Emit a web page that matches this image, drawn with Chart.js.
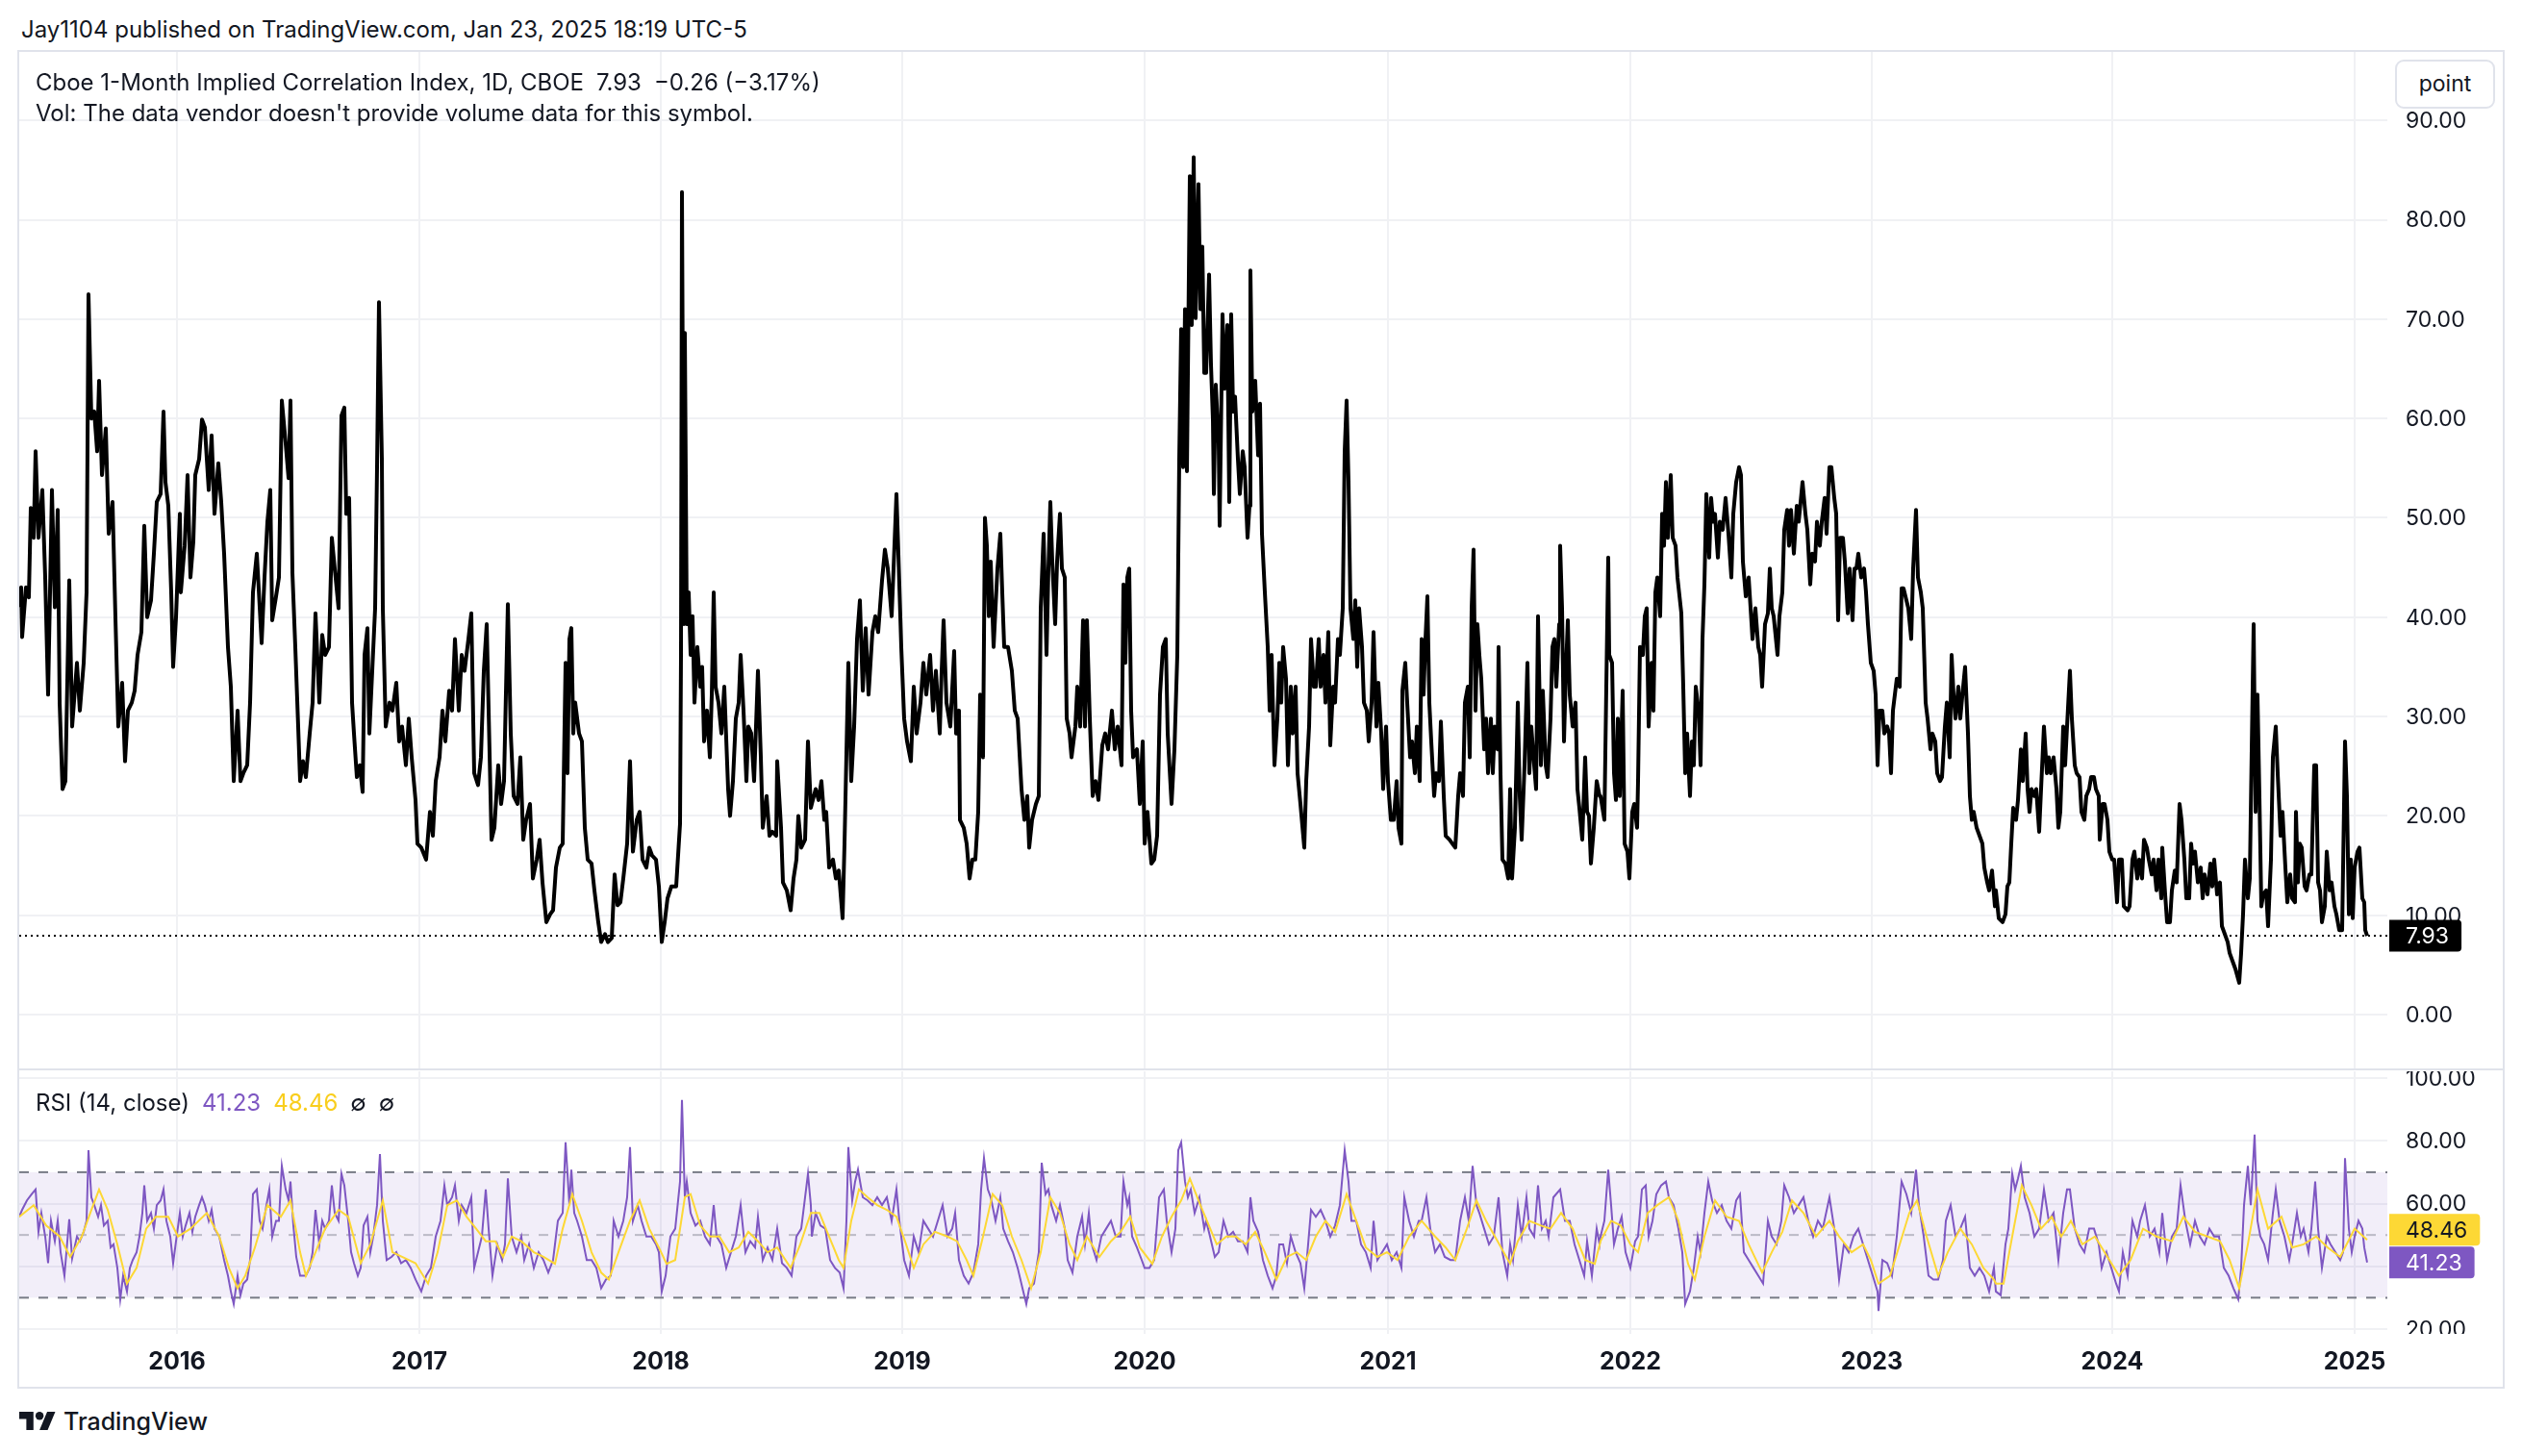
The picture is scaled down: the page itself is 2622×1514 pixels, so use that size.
<!DOCTYPE html>
<html>
<head>
<meta charset="utf-8">
<script src="https://cdn.jsdelivr.net/npm/chart.js@4.4.1/dist/chart.umd.min.js"></script>
<style>
  html, body { margin:0; padding:0; background:#fff; width:2622px; height:1514px; overflow:hidden;
    font-family: Inter, "Noto Sans", Roboto, sans-serif; color:#131722; }
  .abs { position:absolute; }
  #pub { left:22px; top:15px; font-size:24px; line-height:32px; white-space:nowrap; }
  #frame { left:18px; top:52px; width:2586px; height:1392px; border:2px solid #e0e3eb; box-sizing:border-box; }
  #sep { left:20px; top:1111px; width:2582px; height:2px; background:#e0e3eb; z-index:3; }
  #priceWrap { left:20px; top:54px; width:2580px; height:1058px; }
  #rsiWrap { left:20px; top:1114px; width:2580px; height:327px; }
  .legend { font-size:24px; line-height:32px; white-space:nowrap; z-index:4; }
  #title { left:37px; top:70px; }
  #vol { left:37px; top:102px; }
  #rsiLegend { left:37px; top:1131px; }
  #pointBtn { left:2490px; top:62px; width:104px; height:51px; border:2px solid #e0e3eb; border-radius:9px;
    box-sizing:border-box; background:#fff; font-size:23px; line-height:47px; text-align:center; z-index:4; }
  #logo { left:20px; top:1468px; }
  #brand { left:66px; top:1462px; font-size:25px; line-height:32px; font-weight:500; }
  .sp { margin-left:13px; }
</style>
</head>
<body>
<div id="pub" class="abs">Jay1104 published on TradingView.com, Jan 23, 2025 18:19 UTC-5</div>
<div id="frame" class="abs"></div>
<div id="priceWrap" class="abs"><canvas id="price" width="2580" height="1058"></canvas></div>
<div id="sep" class="abs"></div>
<div id="rsiWrap" class="abs"><canvas id="rsi" width="2580" height="327"></canvas></div>
<div id="title" class="abs legend">Cboe 1-Month Implied Correlation Index, 1D, CBOE<span class="sp">7.93</span><span class="sp">−0.26 (−3.17%)</span></div>
<div id="vol" class="abs legend">Vol: The data vendor doesn't provide volume data for this symbol.</div>
<div id="rsiLegend" class="abs legend">RSI (14, close)<span class="sp" style="color:#7E57C2">41.23</span><span class="sp" style="color:#F9CE1D">48.46</span><span class="sp">∅</span><span class="sp">∅</span></div>
<div id="pointBtn" class="abs">point</div>
<svg id="logo" class="abs" width="38" height="19" viewBox="0 4 36 18"><path d="M14 22H7V11H0V4h14v18zM28 22h-8l7.5-18h8L28 22z" fill="#131722"/><circle cx="20" cy="8" r="4" fill="#131722"/></svg>
<div id="brand" class="abs">TradingView</div>

<script>
// ---------- DATA (x = trading-day index from first visible bar) ----------
const yearLabels = ['2016','2017','2018','2019','2020','2021','2022','2023','2024','2025'];
const yearBars   = [164, 416, 667, 918, 1170, 1423, 1675, 1926, 2176, 2428];
const priceTicks = [0, 10, 20, 30, 40, 50, 60, 70, 80, 90];
const rsiTicks   = [100, 80, 60, 40, 20];
const rsiLevels  = [70, 50, 30];

// Cboe 1-Month Implied Correlation Index close, [bar, value]
const closeData = [
[0,41],[2,43],[3,38],[7,43],[10,42],[12,51],[15,48],[17,56.7],[20,48],[24,52.8],
[27,44],[30,32.2],[34,52.8],[37,41],[40,50.8],[42,31.4],[45,22.7],[48,23.5],[52,43.7],[55,29],
[60,35.4],[63,30.6],[67,35.4],[70,42.5],[72,72.5],[75,60],[78,60.7],[81,56.7],[83,63.8],[86,54.3],
[90,59],[93,48.4],[97,51.6],[100,40],[103,29],[107,33.4],[110,25.5],[113,30.6],[117,31.4],[120,32.6],
[123,36.2],[127,38.5],[130,49.2],[133,40],[137,41.7],[140,46.4],[143,51.6],[147,52.4],[150,60.7],[152,53.6],
[155,51.2],[158,42.5],[160,35],[163,40],[167,50.4],[168,42.5],[172,47.2],[175,54.3],[178,44],[181,47.6],
[183,54.3],[187,55.9],[190,59.9],[193,59.1],[197,52.8],[200,58.3],[203,50.4],[207,55.5],[210,51.6],[213,46.4],
[217,37],[220,33],[223,23.5],[227,30.6],[230,23.5],[233,24.3],[237,25.1],[240,31.4],[243,42.5],[247,46.4],
[250,41],[252,37.4],[255,44],[258,49.6],[261,52.8],[263,39.7],[267,42.1],[270,44],[273,61.8],[277,57.5],
[280,54],[282,61.8],[284,44.5],[287,37],[290,29],[292,23.5],[295,25.5],[298,23.9],[302,28.3],[305,31.4],
[308,40.4],[312,31.4],[315,38.2],[318,36.2],[322,37],[325,48],[328,44.9],[332,40.9],[335,60.3],[338,61.1],
[340,50.4],[343,52],[346,31.4],[348,28.3],[351,23.9],[354,25.1],[357,22.4],[359,36.2],[362,38.9],[364,28.3],
[367,34.6],[370,40.9],[372,55.1],[374,71.7],[377,55.9],[378,40.9],[381,29],[385,31.4],[388,30.6],[392,33.4],
[395,27.5],[398,29],[402,25.1],[405,29.8],[408,25.9],[412,21.6],[414,17.2],
[418,16.8],[423,15.6],[427,20.4],[430,18],[433,23.5],[437,25.9],[440,30.6],[443,27.5],[447,32.6],[450,30.6],
[453,37.8],[457,30.6],[460,36.2],[463,34.6],[467,37.8],[470,40.4],[473,24.3],[477,23.1],[480,25.9],[483,34.6],
[486,39.3],[488,30.6],[491,17.6],[494,18.8],[498,25.1],[501,21.2],[504,23.5],[508,41.3],[511,28.3],[514,22],
[518,21.2],[521,25.9],[524,17.6],[527,19.6],[531,21.2],[534,13.7],[538,15.6],[541,17.6],[544,13.3],[548,9.3],
[552,10.1],[555,10.5],[558,14.8],[562,16.8],[565,17.2],[568,35.4],[570,24.3],[572,37.8],[574,38.9],[576,28.3],
[578,31.4],[582,28.3],[585,27.5],[588,18.8],[591,15.6],[595,15.2],[598,12.5],[602,9.3],[605,7.3],[609,8.1],
[612,7.3],[616,7.7],[619,14.1],[622,11],[625,11.3],[628,13.7],[632,17.2],[635,25.5],[638,16.4],[642,19.6],
[645,20.4],[648,15.6],[652,14.8],[655,16.8],[658,16],[662,15.6],[665,12.9],[668,7.3],[671,9.3],[674,11.7],
[678,12.9],[683,12.9],[687,19.2],[688,36.2],[689,82.8],[691,39.3],[692,68.6],[694,39.3],[696,42.5],[698,36.2],
[700,40.1],[702,31.4],[705,37],[708,33],[710,35],[712,27.5],[715,30.6],[718,25.9],[720,32.2],[722,42.5],
[724,33],[727,31.4],[730,28.3],[733,33],[737,22.7],[739,20],[742,23.5],[745,29.8],[748,31.4],[750,36.2],
[753,30.6],[756,23.5],[758,29],[761,28.3],[764,23.5],[768,34.6],[771,25.9],[773,18.8],[777,22],[780,18],
[783,18.4],[787,18],[788,25.5],[792,18.8],[794,13.3],[798,12.5],[802,10.5],[805,13.7],[808,15.6],[810,20],
[813,16.8],[817,17.6],[820,27.5],[823,20.8],
[824,21.2],[828,22.7],[831,21.6],[834,23.5],[837,19.6],[839,20.4],[842,14.8],[846,15.6],[849,13.7],[852,14.5],
[856,9.7],[858,17.2],[862,35.4],[865,23.5],[868,29],[871,37.8],[874,41.7],[877,32.6],[880,38.9],[883,32.2],
[887,38.5],[890,40.1],[893,38.5],[897,43.7],[900,46.8],[903,44.9],[907,40.1],[909,44.9],[912,52.4],[914,46.4],
[917,37],[920,29.8],[923,27.5],[927,25.5],[930,33],[933,28.3],[937,31.4],[940,35.4],[943,32.2],[947,36.2],
[950,30.6],[953,34.6],[957,28.3],[959,34.6],[961,39.7],[964,31.4],[968,29],[972,36.6],[974,28.3],[977,30.6],
[978,19.6],[982,18.8],[985,17.2],[988,13.7],[991,15.6],[994,15.6],[997,20.4],[999,32.2],[1002,25.9],[1004,50],
[1006,47.2],[1008,40.1],[1010,45.6],[1013,37],[1017,44.9],[1020,48.4],[1022,42.5],[1024,37],[1028,37],[1032,34.6],
[1035,30.6],[1038,29.8],[1042,22.7],[1045,19.6],[1048,22],[1050,16.8],[1053,19.6],[1057,21.2],[1060,22],[1062,40.9],
[1065,48.4],[1068,36.2],[1070,44.9],[1072,51.6],[1074,45.6],[1077,39.3],[1079,45.6],[1082,50.4],[1084,44.9],[1087,44],
[1089,29.8],[1092,28.3],[1094,25.9],[1098,29],[1100,33],[1103,29],[1106,39.7],[1108,29],[1110,39.7],[1113,29.8],
[1116,22],[1119,23.5],[1122,21.6],[1126,27.1],[1129,28.3],[1132,26.7],[1136,30.6],[1139,26.7],[1142,29],[1146,25.1],
[1148,43.3],[1150,35.4],[1152,44],[1154,44.9],[1156,30.6],[1158,25.9],[1162,26.7],[1165,21.2],[1168,27.5],[1170,17.2],
[1173,20.4],[1177,15.2],[1180,15.6],[1183,18],[1186,32.2],[1189,37],[1192,37.8],[1194,28.3],[1198,21.2],[1201,26.7],
[1204,36.2],[1206,55.9],[1208,69],[1210,55.1],[1212,71],[1214,54.7],[1217,84.4],[1219,69.4],[1221,86.3],[1223,70.1],
[1226,83.6],[1228,71],[1230,77.3],[1232,64.6],
[1234,64.6],[1237,74.5],[1239,65.4],[1241,59.9],[1242,52.4],[1244,63.4],[1247,57.5],[1248,49.2],[1251,70.5],[1253,63],
[1256,69.4],[1258,51.6],[1260,70.5],[1262,60.7],[1264,62.2],[1267,55.9],[1269,52.4],[1272,56.7],[1274,55.1],[1277,48],
[1279,51.2],[1280,74.9],[1282,60.7],[1285,63.8],[1288,56.3],[1290,61.5],[1292,48.4],[1295,42.5],[1298,37],[1300,30.6],
[1302,36.2],[1305,25.1],[1308,29.8],[1310,35.4],[1312,31.4],[1314,37],[1317,33.8],[1319,25.1],[1322,33],[1324,28.3],
[1327,33],[1329,24.3],[1332,21.2],[1336,16.8],[1338,23.5],[1341,29],[1343,37.8],[1346,33],[1348,33],[1351,37.8],
[1353,33],[1356,36.2],[1358,31.4],[1361,38.5],[1363,27.1],[1366,33],[1368,31.4],[1371,37.8],[1373,36.2],[1376,40.9],
[1378,56.7],[1380,61.8],[1382,53.6],[1384,40.9],[1387,37.8],[1389,41.7],[1391,35],[1393,40.9],[1396,37],[1398,31.4],
[1401,30.6],[1403,27.5],[1406,31.4],[1408,38.5],[1411,29],[1413,33.4],[1416,28.3],[1418,22.7],[1421,29],[1423,23.5],
[1426,19.6],[1429,19.6],[1432,23.5],[1434,18.8],[1437,17.2],[1438,32.6],[1441,35.4],[1443,31.4],[1446,25.9],[1448,27.5],
[1451,24.3],[1453,29],[1456,23.5],[1458,37.8],[1460,32.2],[1462,37.8],[1464,42.1],[1466,31.4],[1468,27.5],[1471,22],
[1473,24.3],[1476,23.5],[1478,29.5],[1481,22],[1483,18],[1487,17.6],[1490,17.2],[1493,16.8],[1496,22],[1498,24.3],
[1501,22],[1503,31.4],[1506,33],[1508,25.9],[1510,40.9],[1512,46.8],[1514,30.6],[1516,39.3],[1518,36.2],[1520,33.8],
[1523,26.7],[1525,29.8],[1527,24.3],[1530,29.8],[1532,24.3],[1534,29],[1537,26.7],[1538,37],[1540,24.3],[1542,15.6],
[1545,15.2],[1548,13.7],[1550,22.7],[1552,13.7],[1555,18.8],[1558,31.4],[1560,22],[1562,17.6],[1565,25.1],[1568,35.4],
[1570,24.3],[1572,29],[1575,25.1],[1577,22.7],[1579,40.1],[1582,25.1],[1584,32.6],[1587,25.1],[1589,23.9],[1592,29.8],
[1594,37],[1596,37.8],[1598,33],[1601,39.3],[1602,47.2],[1604,40.9],[1606,27.5],[1608,34.6],[1610,39.7],[1612,32.2],
[1615,29],[1618,31.4],[1620,22.7],[1622,20.8],[1625,17.6],[1628,25.9],[1630,20.4],[1632,20],[1634,15.2],[1637,18.8],
[1640,23.5],[1643,22],
[1644,22],[1648,19.6],[1650,33],[1652,46],[1653,36.2],[1656,35.4],[1658,24.3],[1660,21.6],[1662,29.8],[1664,22],
[1667,32.6],[1669,17.2],[1672,16.4],[1674,13.7],[1677,20.4],[1679,21.2],[1682,18.8],[1683,23.5],[1685,37],[1688,36.2],
[1690,40.1],[1692,40.9],[1694,29],[1697,35.4],[1699,30.6],[1701,42.5],[1703,44],[1706,40.1],[1708,50.4],[1710,47.2],
[1712,53.6],[1714,48],[1717,54.3],[1719,48],[1722,47.2],[1724,44],[1728,40.4],[1730,33],[1732,24.3],[1734,28.3],
[1737,22],[1739,27.5],[1741,25.1],[1743,33],[1746,30.6],[1748,25.1],[1750,37.8],[1752,43.3],[1754,52.4],[1757,46],
[1759,52],[1761,49.6],[1763,50.4],[1766,46],[1768,49.6],[1771,48.8],[1774,52],[1777,48.4],[1780,44],[1782,50.4],
[1785,53.6],[1788,55.1],[1790,54.3],[1792,45.6],[1795,42.1],[1798,44],[1800,40.9],[1802,37.8],[1805,40.9],[1808,37],
[1810,36.2],[1812,33],[1815,39.3],[1818,40.4],[1820,44.9],[1822,40.9],[1824,40.1],[1828,36.2],[1830,40.1],[1833,42.5],
[1835,48.8],[1838,50.8],[1840,47.2],[1842,50.8],[1845,46.4],[1848,51.2],[1850,49.6],[1852,51.6],[1854,53.6],[1857,50.4],
[1859,48.8],[1862,43.3],[1864,46.4],[1867,45.6],[1869,49.6],[1872,47.2],[1874,49.6],[1877,52],[1879,48.4],[1882,55.1],
[1884,55.1],[1887,52],[1889,50.4],[1891,39.7],[1893,48],[1896,48],[1898,45.6],[1901,40.4],[1903,44.9],[1906,39.7],
[1908,44.9],[1910,44.9],[1912,46.4],[1915,44],[1918,44.9],[1920,42.5],[1922,39.3],[1925,35.4],[1928,34.6],[1930,32.2],
[1932,25.1],[1934,30.6],[1937,30.6],[1939,28.3],[1942,29],[1944,28.3],[1946,24.3],[1948,30.6],[1950,32.2],[1952,33.8],
[1955,33],[1957,42.9],[1959,42.9],[1962,41.7],[1964,40.9],[1967,37.8],[1969,44.9],[1972,50.8],[1974,44],[1977,42.5],
[1979,40.9],[1982,31.4],[1984,29.8],[1987,26.7],[1989,28.3],[1992,27.5],[1994,24.3],[1997,23.5],[1999,23.9],[2002,29],
[2004,31.4],[2007,25.9],[2009,36.2],[2011,32.2],[2013,29.8],[2016,33],[2018,29.8],[2021,33],[2023,35],[2026,28.3],
[2028,22],[2030,19.6],[2032,20.4],[2035,18.8],[2038,18],[2041,17.2],[2043,14.8],[2046,13.3],[2048,12.5],[2051,14.5],
[2054,10.9],
[2055,12.5],[2058,9.7],[2062,9.3],[2065,10.1],[2067,12.9],[2069,13.3],[2071,17.2],[2073,20.8],[2076,19.6],[2078,21.6],
[2081,26.7],[2083,23.5],[2086,28.3],[2088,22.7],[2090,20.4],[2092,22.7],[2095,22],[2097,22.7],[2100,18.4],[2102,22.7],
[2105,29],[2108,24.3],[2110,25.9],[2112,24.3],[2115,25.9],[2118,22.7],[2120,18.8],[2122,20.4],[2125,29],[2127,25.1],
[2129,29],[2132,34.6],[2134,29.8],[2137,25.1],[2139,24.3],[2142,23.9],[2144,20.4],[2147,19.6],[2149,22],[2152,22.7],
[2154,23.9],[2157,23.9],[2159,22.7],[2162,22],[2163,17.6],[2166,21.2],[2168,21.2],[2171,19.6],[2173,16.4],[2176,15.6],
[2178,15.6],[2181,11.3],[2183,15.6],[2186,15.6],[2188,10.9],[2192,10.5],[2194,10.9],[2197,15.6],[2199,16.4],[2202,13.7],
[2204,15.6],[2207,13.7],[2209,17.6],[2212,16.8],[2214,15.6],[2217,14.1],[2219,15.6],[2222,12.5],[2224,15.6],[2227,11.7],
[2228,16.8],[2231,12.1],[2233,9.3],[2236,9.3],[2238,12.5],[2241,14.5],[2243,13.3],[2246,21.2],[2248,19.6],[2251,15.6],
[2253,11.7],[2256,11.7],[2258,17.2],[2260,15.2],[2262,16.4],[2265,13.3],[2268,14.8],[2270,11.7],[2272,14.1],[2275,12.1],
[2278,15.2],[2280,12.9],[2282,15.6],[2285,12.1],[2288,13.3],[2290,8.9],[2293,8.1],[2296,7.3],[2298,6.2],[2301,5.4],
[2304,4.6],[2308,3.2],[2310,6.2],[2312,10.1],[2314,15.6],[2317,11.7],[2319,13.7],[2321,26.7],[2323,39.3],[2325,20.4],
[2327,32.2],[2329,22],[2331,10.9],[2333,12.1],[2336,12.5],[2338,8.9],[2341,15.6],[2343,25.9],[2346,29],[2348,24.3],
[2351,18],[2353,20.4],[2356,14.8],[2358,11.3],[2361,14.1],[2363,11.7],[2366,11.3],[2367,20.4],[2369,13.3],[2371,17.2],
[2373,16.8],[2376,12.9],[2378,12.5],[2381,14.1],[2383,14.1],[2386,25.1],[2388,25.1],[2390,13.3],[2392,12.5],[2394,9.3],
[2397,10.9],[2399,16.4],[2402,12.5],[2404,13.3],[2407,10.9],[2409,10.1],[2412,8.5],[2415,8.5],[2418,27.5],[2420,22],
[2422,10.1],[2424,15.6],[2426,9.7],[2428,14.8],[2431,16.4],[2433,16.8],[2436,11.7],[2438,11.3],[2439,8.5],[2441,7.93]
];

// RSI (14, close), [bar, value]
const rsiData = [
[0,55.8],[3,58],[8,61],[13,63],[17,64.5],[20,51],[23,57],[27,49.5],[30,41],[33,54.5],
[37,48],[40,54.5],[43,44.5],[47,37],[50,48],[52,55],[55,42.5],[60,49.5],[63,48],[67,51],
[70,54.5],[72,77],[75,62],[78,59.5],[82,55.8],[85,59.5],[88,53],[92,54.5],[95,46],[98,47],
[102,39.5],[105,29.5],[108,37],[112,32],[115,39.5],[118,42],[122,44.5],[125,49.5],[128,57],[130,65.8],
[133,54.5],[137,57],[140,52],[143,59.5],[147,61],[150,64.5],[153,54.5],[157,49.5],[160,41],[163,48],
[167,57],[170,49.5],[173,53],[177,57],[180,51],[183,55.8],[187,59.5],[190,62],[193,59.5],[197,54.5],
[200,58],[203,52],[208,49.5],[213,42],[217,37],[220,32],[223,28],[227,37],[230,30.8],[233,34.5],
[237,35.8],[240,42],[243,63],[247,64.5],[250,54.5],[253,52],[257,59.5],[260,64.5],[263,49.5],[267,54.5],
[270,54.5],[273,72],[277,64.5],[280,61],[282,67],[285,53],[288,43],[292,37],[295,37],[298,37],
[302,39.5],[305,44.5],[308,58],[312,47],[315,54.5],[318,52],[322,54.5],[325,65.8],[328,57],[332,54.5],
[335,69.5],[338,65.8],[342,54.5],[345,44.5],[348,41],[352,37],[355,39.5],[358,53],[362,55.8],[365,44.5],
[368,49.5],[372,59.5],[375,75.8],[378,54.5],[382,42],[387,43],[392,44.5],[397,41],[402,42],[407,39.5],
[412,35.8],
[418,32],[423,37],[428,39.5],[433,49.5],[438,54.5],[442,65.8],[445,59.5],[450,62],[453,65.8],[457,54.5],
[460,59.5],[465,57],[470,62],[473,39.5],[477,44.5],[481,49.5],[485,64.5],[488,52],[492,37],[497,47],
[502,42],[505,47],[508,68],[512,49.5],[517,44.5],[522,49.5],[525,42],[530,47],[535,39.5],[540,44.5],
[545,42],[550,38],[555,42],[560,54.5],[565,57],[568,79.5],[572,59.5],[574,70.8],[577,57],[580,54.5],
[585,49.5],[590,42],[595,42],[600,39.5],[605,33],[610,35.8],[615,37],[618,54.5],[623,49.5],[628,54.5],
[632,62],[635,78],[638,54.5],[643,59.5],[647,54.5],[652,49.5],[657,49.5],[662,47],[665,44.5],[668,32],
[672,37],[677,49.5],[682,52],[687,67],[689,93],[692,62],[694,67],[698,57],[703,53],[708,54.5],
[713,49.5],[718,47],[722,59.5],[725,49.5],[730,47],[735,39.5],[740,44.5],[745,49.5],[750,59.5],[755,44.5],
[760,48],[765,46],[768,55.8],[773,42],[778,46],[783,42],[788,52],[793,41],[798,39.5],[803,37],
[808,49.5],[813,52],[820,69.5],[823,59.5],
[824,49.5],[828,57],[833,53],[838,52],[843,42],[848,39.5],[853,38],[857,33],[860,54.5],[862,78],
[866,61],[869,67],[872,70.8],[877,62],[882,61],[887,59.5],[892,62],[897,59.5],[902,62],[907,54.5],
[912,64.5],[915,54.5],[920,42],[925,37],[930,49.5],[935,44.5],[940,54.5],[945,52],[950,49.5],[955,54.5],
[960,59.5],[965,49.5],[970,52],[973,57],[977,42],[982,37],[987,34.5],[992,38],[997,47],[1000,64.5],
[1003,74.5],[1007,64.5],[1010,62],[1015,54.5],[1020,62],[1023,52],[1028,48],[1033,44.5],[1038,39.5],[1043,33],
[1047,28],[1050,33],[1055,34.5],[1060,44.5],[1063,73],[1067,63],[1070,64.5],[1073,59.5],[1078,54.5],[1082,59.5],
[1087,52],[1090,42],[1095,38],[1100,49.5],[1105,55.8],[1108,47],[1112,57],[1115,47],[1120,42],[1125,49.5],
[1130,52],[1135,54.5],[1140,49.5],[1145,49.5],[1148,67],[1152,59.5],[1154,62],[1157,49.5],[1162,46],[1167,42],
[1170,39.5],[1175,39.5],[1180,42],[1185,62],[1190,64.5],[1193,54.5],[1198,44.5],[1202,52],[1205,77],[1208,79.5],
[1212,67],[1215,62],[1218,64.5],[1222,57],[1227,62],[1232,52],
[1234,54.5],[1238,49.5],[1243,43],[1247,44.5],[1252,54.5],[1257,49.5],[1262,51],[1267,48],[1272,48],[1277,44.5],
[1280,62],[1283,54.5],[1288,51],[1293,42],[1298,37],[1303,33],[1307,37],[1310,47],[1314,47],[1318,41],
[1322,49.5],[1327,44.5],[1332,41],[1336,33],[1340,47],[1343,58],[1348,55.8],[1353,58],[1358,54.5],[1363,49.5],
[1368,53],[1373,59.5],[1378,77],[1382,67],[1385,54.5],[1390,54.5],[1395,47],[1400,44.5],[1405,39.5],[1408,54.5],
[1412,42],[1417,44.5],[1422,47],[1427,42],[1432,44.5],[1437,39.5],[1440,62],[1445,54.5],[1450,49.5],[1455,54.5],
[1458,54.5],[1463,62],[1467,52],[1472,44.5],[1477,47],[1482,43],[1488,42],[1493,42],[1498,54.5],[1503,62],
[1507,54.5],[1511,72],[1515,59.5],[1518,57],[1523,52],[1528,47],[1533,49.5],[1538,62],[1542,44.5],[1547,37],
[1550,47],[1553,42],[1558,59.5],[1562,49.5],[1567,62],[1570,52],[1575,49.5],[1579,65.8],[1583,52],[1587,54.5],
[1590,49.5],[1595,62],[1602,64.5],[1607,54.5],[1612,54.5],[1617,47],[1622,42],[1627,37],[1630,48],[1635,37],
[1640,52],[1643,47],
[1644,49.5],[1648,54.5],[1652,70.8],[1655,59.5],[1658,47],[1662,52],[1666,55.8],[1670,44.5],[1675,39.5],[1680,48],
[1683,49.5],[1687,64.5],[1691,65.8],[1694,49.5],[1698,54.5],[1702,63],[1707,65.8],[1712,67],[1715,62],[1720,59.5],
[1725,52],[1729,44.5],[1732,28],[1737,32],[1741,39.5],[1745,49.5],[1748,44.5],[1752,57],[1756,67],[1760,61],
[1765,57],[1770,59.5],[1775,54.5],[1780,52],[1785,61],[1789,63],[1793,44.5],[1798,42],[1803,39.5],[1808,37],
[1813,34.5],[1818,54.5],[1822,49.5],[1827,47],[1832,54.5],[1835,65.8],[1840,62],[1845,57],[1850,59.5],[1855,62],
[1860,54.5],[1865,49.5],[1870,54.5],[1875,52],[1882,62],[1887,52],[1892,35.8],[1897,47],[1902,44.5],[1907,49.5],
[1912,52],[1917,47],[1922,42],[1927,37],[1932,32],[1933,25.8],[1937,42],[1942,41],[1947,37],[1952,49.5],
[1957,67],[1962,63],[1967,57],[1972,70.8],[1975,59.5],[1980,49.5],[1985,37],[1990,35.8],[1995,35.8],[2000,42],
[2003,54.5],[2008,59.5],[2013,49.5],[2018,52],[2023,55.8],[2028,39.5],[2033,37],[2038,39.5],[2043,37],[2048,32],
[2053,39.5],
[2055,32],[2060,30.8],[2065,47],[2068,52],[2072,69.5],[2075,64.5],[2078,68],[2081,72],[2085,62],[2090,57],
[2095,49.5],[2100,52],[2105,64.5],[2110,54.5],[2115,57],[2120,42],[2125,57],[2129,64.5],[2132,64.5],[2137,52],
[2142,47],[2147,44.5],[2152,52],[2157,52],[2162,47],[2165,39.5],[2170,44.5],[2175,39.5],[2180,34.5],[2183,32],
[2187,44.5],[2192,37],[2197,54.5],[2202,49.5],[2205,54.5],[2210,59.5],[2215,49.5],[2220,52],[2225,44.5],[2228,57],
[2233,42],[2238,49.5],[2243,52],[2247,65.8],[2252,54.5],[2257,47],[2262,54.5],[2267,49.5],[2272,47],[2277,52],
[2282,49.5],[2287,49.5],[2292,39.5],[2297,37],[2302,33],[2307,29.5],[2310,39.5],[2313,59.5],[2317,72],[2320,59.5],
[2324,82],[2327,54.5],[2330,49.5],[2334,47],[2338,42],[2343,57],[2346,64.5],[2350,54.5],[2355,49.5],[2360,42],
[2363,47],[2368,57],[2372,49.5],[2375,52],[2380,44.5],[2383,52],[2387,67],[2390,52],[2394,39.5],[2399,49.5],
[2403,47],[2408,44.5],[2413,42],[2416,44.5],[2418,74.5],[2422,52],[2425,44.5],[2428,49.5],[2432,54.5],[2436,52],
[2438,46],[2441,41.23]
];

// RSI-based moving average, [bar, value]
const rsiMaData = [
[0,55.8],[15,59.5],[28,53],[42,49.5],[53,43],[65,49.5],[75,58],[83,64.5],[92,58],[102,47],
[112,34.5],[122,39.5],[132,52],[142,55.8],[155,55.8],[165,49.5],[178,52],[195,57],[208,49.5],[218,39.5],
[227,33],[235,37],[245,46],[258,59.5],[272,55.8],[282,61],[292,44.5],[298,37],[308,44.5],[318,52],
[332,58],[342,55.8],[355,41],[365,47],[378,61],[388,44.5],[398,43],[412,41],
[425,34.5],[435,44.5],[445,59.5],[455,61],[465,55.8],[475,52],[485,48],[495,48],[503,43],[512,49.5],
[522,48],[535,44.5],[545,43],[557,40.8],[565,52],[575,63],[585,54.5],[595,44.5],[605,38],[613,35.8],
[623,44.5],[635,54.5],[645,61],[655,52],[665,46],[673,40.8],[682,42],[692,62],[698,63],[708,53],
[718,49.5],[728,49.5],[738,44.5],[748,46],[758,51],[768,48],[778,44.5],[788,46],[802,39.5],[812,47],
[823,57],
[832,57],[842,49.5],[852,42],[857,39.5],[865,54.5],[873,64.5],[882,62],[892,59.5],[902,58],[912,55.8],
[922,47],[930,39.5],[940,47],[952,51],[965,49.5],[975,48],[985,42],[992,37],[1002,49.5],[1012,63],
[1022,59.5],[1032,49.5],[1042,42],[1052,33],[1062,44.5],[1072,62],[1082,57],[1092,47],[1100,42],[1110,49.5],
[1123,43],[1135,48],[1145,51],[1155,55.8],[1165,46],[1178,40.8],[1188,49.5],[1198,55.8],[1208,61],[1217,68],
[1228,59.5],
[1245,47],[1255,49.5],[1265,49.5],[1275,47],[1285,51],[1295,44.5],[1307,35.8],[1318,43],[1328,44.5],[1338,42],
[1348,49.5],[1358,54.5],[1368,51],[1380,63],[1390,54.5],[1400,46],[1412,43],[1422,44.5],[1433,42],[1445,49.5],
[1458,54.5],[1472,49.5],[1483,46],[1493,42],[1505,52],[1515,61],[1525,54.5],[1537,48],[1550,40.8],[1558,48],
[1570,54.5],[1582,53],[1592,52],[1603,57],[1615,52],[1628,42],[1638,40.8],
[1644,48],[1655,54.5],[1665,53],[1675,47],[1683,44.5],[1693,57],[1703,59.5],[1715,62],[1725,54.5],[1735,40.8],
[1742,35.8],[1752,49.5],[1763,61],[1775,55.8],[1788,54.5],[1798,47],[1812,38],[1822,44.5],[1833,51],[1843,61],
[1855,57],[1868,49.5],[1882,54.5],[1892,49.5],[1905,44.5],[1917,47],[1925,42],[1933,34.5],[1945,37],[1955,47],
[1965,57],[1973,61],[1983,49.5],[1995,37],[2005,44.5],[2018,52],[2030,47],[2042,39.5],[2053,35.8],
[2055,34.5],[2063,34.5],[2072,49.5],[2082,65.8],[2092,59.5],[2102,52],[2113,55.8],[2123,49.5],[2133,54.5],[2145,47],
[2158,49.5],[2168,44.5],[2183,37],[2195,42],[2208,52],[2222,49.5],[2238,48],[2250,55.8],[2262,51],[2275,49.5],
[2288,48],[2298,42],[2308,33],[2317,47],[2327,64.5],[2338,52],[2352,55.8],[2363,46],[2375,47],[2388,49.5],
[2400,46],[2413,43],[2428,52],[2441,48.46]
];

// ---------- CHARTS ----------
const X_MIN = 0, X_MAX = 2462;
const GRID = '#f0f1f4';
const FONT_AXIS = '23px Inter, "Noto Sans", sans-serif';
const toXY = a => a.map(([x, y]) => ({x, y}));
const last = a => a[a.length - 1][1];

const axisLabels = {
  id: 'axisLabels',
  afterDraw(chart, args, o) {
    const {ctx, chartArea: a} = chart;
    const y = chart.scales.y, x = chart.scales.x;
    ctx.save();
    ctx.beginPath();
    ctx.rect(a.right, a.top, chart.width - a.right, a.bottom - a.top);
    ctx.clip();
    ctx.font = FONT_AXIS;
    ctx.textBaseline = 'middle';
    ctx.textAlign = 'left';
    ctx.fillStyle = '#131722';
    o.ticks.forEach(v => ctx.fillText(v.toFixed(2), a.right + 19, y.getPixelForValue(v) + 1));
    let prevTop = Infinity;
    o.badges.forEach(b => {
      const txt = b.value.toFixed(2);
      const w = ctx.measureText(txt).width + 30;
      const h = 33;
      let top = y.getPixelForValue(b.value) - h / 2;
      if (top + h > prevTop) top = prevTop - h - 1;
      ctx.fillStyle = b.bg;
      ctx.beginPath();
      ctx.roundRect(a.right + 2, top, w, h, [0, 4, 4, 0]);
      ctx.fill();
      ctx.fillStyle = b.fg;
      ctx.fillText(txt, a.right + 19, top + h / 2 + 1);
      prevTop = top;
    });
    ctx.restore();
    if (o.years) {
      ctx.save();
      ctx.font = 'bold 25px Inter, "Noto Sans", sans-serif';
      ctx.fillStyle = '#131722';
      ctx.textAlign = 'center';
      ctx.textBaseline = 'middle';
      yearLabels.forEach((l, i) => ctx.fillText(l, x.getPixelForValue(yearBars[i]), a.bottom + 29));
      ctx.restore();
    }
  }
};

const rsiBand = {
  id: 'rsiBand',
  beforeDatasetsDraw(chart) {
    const {ctx, chartArea: a, scales: {y}} = chart;
    const [up, mid, lo] = rsiLevels.map(v => y.getPixelForValue(v));
    ctx.save();
    ctx.fillStyle = 'rgba(126,87,194,0.1)';
    ctx.fillRect(a.left, up, a.right - a.left, lo - up);
    ctx.lineWidth = 2;
    ctx.setLineDash([10, 10]);
    ctx.strokeStyle = '#787b86';
    [up, lo].forEach(py => { ctx.beginPath(); ctx.moveTo(a.left, py); ctx.lineTo(a.right, py); ctx.stroke(); });
    ctx.strokeStyle = 'rgba(120,123,134,0.45)';
    ctx.beginPath(); ctx.moveTo(a.left, mid); ctx.lineTo(a.right, mid); ctx.stroke();
    ctx.restore();
  }
};

function xScale(height) {
  return {
    type: 'linear', min: X_MIN, max: X_MAX,
    afterBuildTicks: s => { s.ticks = yearBars.map(v => ({value: v})); },
    grid: {color: GRID, lineWidth: 2, drawTicks: false},
    border: {display: false},
    ticks: {display: false},
    afterFit: s => { s.height = height; }
  };
}
function yScale(min, max, ticks) {
  return {
    type: 'linear', position: 'right', min, max,
    afterBuildTicks: s => { s.ticks = ticks.map(v => ({value: v})); },
    grid: {color: GRID, lineWidth: 2, drawTicks: false},
    border: {display: false},
    ticks: {display: false},
    afterFit: s => { s.width = 118; }
  };
}
const baseOpts = {
  responsive: false, animation: false, devicePixelRatio: 1, events: [],
  layout: {padding: 0},
  elements: {point: {radius: 0}, line: {tension: 0}}
};

const lastClose = last(closeData);
new Chart(document.getElementById('price'), {
  type: 'line',
  data: {datasets: [
    {data: toXY(closeData), borderColor: '#000', borderWidth: 4, borderJoinStyle: 'round', order: 1},
    {data: [{x: X_MIN, y: lastClose}, {x: X_MAX, y: lastClose}], borderColor: '#000', borderWidth: 2, borderDash: [2, 4], order: 2}
  ]},
  options: Object.assign({}, baseOpts, {
    scales: {x: xScale(0), y: yScale(-5.52, 96.9, priceTicks)},
    plugins: {legend: {display: false}, tooltip: {enabled: false},
      axisLabels: {ticks: priceTicks, badges: [{value: lastClose, bg: '#000', fg: '#fff'}]}}
  }),
  plugins: [axisLabels]
});

new Chart(document.getElementById('rsi'), {
  type: 'line',
  data: {datasets: [
    {data: toXY(rsiMaData), borderColor: '#FDD835', borderWidth: 2, order: 1},
    {data: toXY(rsiData), borderColor: '#7E57C2', borderWidth: 2, order: 2}
  ]},
  options: Object.assign({}, baseOpts, {
    scales: {x: xScale(54), y: yScale(18.47, 102.15, rsiTicks)},
    plugins: {legend: {display: false}, tooltip: {enabled: false},
      axisLabels: {ticks: rsiTicks, years: true, badges: [
        {value: last(rsiData), bg: '#7E57C2', fg: '#fff'},
        {value: last(rsiMaData), bg: '#FDD835', fg: '#131722'}
      ]}}
  }),
  plugins: [rsiBand, axisLabels]
});
</script>
</body>
</html>
